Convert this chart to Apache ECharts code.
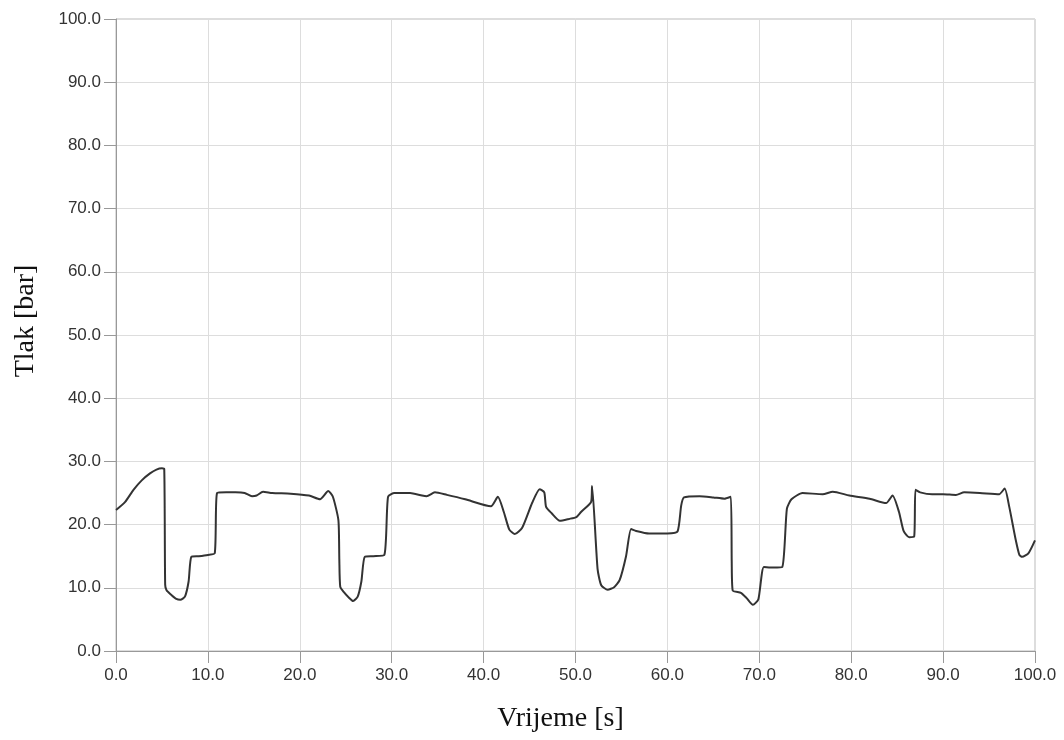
<!DOCTYPE html>
<html>
<head>
<meta charset="utf-8">
<script src="https://cdn.jsdelivr.net/npm/echarts@6/dist/echarts.min.js"></script>
<style>
  html, body { margin: 0; padding: 0; background: #fff; }
  #chart { width: 1064px; height: 740px; }
</style>
</head>
<body>
<div id="chart"></div>
<script>
// vrijeme [s]
var vrijeme = [0, 1, 1.9, 2.8, 3.7, 4.4, 5.0, 5.25, 5.35, 5.5, 6.0, 6.5, 7.0, 7.5, 7.9, 8.2, 9.0, 10.0, 10.75,
  11.0, 12, 13, 14, 14.8, 15.3, 16.0, 17, 19, 21, 22.2, 23.1, 23.6, 24.2, 24.3, 24.4, 24.8, 25.3, 25.8, 26.3,
  26.7, 27.07, 28, 29.2, 29.6, 30.3, 32, 33.3, 33.8, 34.7, 36, 38, 40.8, 41.55, 42.2, 42.8, 43.4, 44.2, 45.3,
  46.1, 46.6, 46.8, 47.4, 48.3, 49.3, 50.1, 50.6, 51.7, 51.8, 52.4, 52.8, 53.5, 54.2, 54.8, 55.5, 56.05, 56.6,
  58, 60, 61.1, 61.5, 61.8, 63.5, 65, 66.2, 66.9, 67.0, 67.1, 68.0, 68.6, 69.3, 69.9, 70.5, 71.5, 72.5, 73.0,
  73.5, 74.7, 76.9, 78.0, 79.8, 82, 83.8, 84.5, 85.2, 85.7, 86.3, 86.85, 87.0, 87.5, 88.8, 90, 91.4, 92.3, 94,
  96.1, 96.7, 97.2, 97.9, 98.3, 98.6, 99.3, 100];
// tlak [bar]
var tlak = [22.3, 23.6, 25.5, 27.0, 28.1, 28.7, 28.9, 28.8, 10.5, 9.6, 8.9, 8.3, 8.1, 8.6, 11, 14.9, 15.0, 15.2, 15.5,
  25.0, 25.1, 25.1, 25.0, 24.5, 24.6, 25.2, 25.0, 24.9, 24.6, 24.0, 25.3, 24.4, 20.7, 14.5, 10.2, 9.3, 8.5, 7.9, 8.6,
  11, 14.9, 15.0, 15.2, 24.4, 25.0, 25.0, 24.6, 24.5, 25.1, 24.7, 24.0, 22.9, 24.4, 22, 19.2, 18.5, 19.5, 23.5,
  25.6, 25.1, 22.8, 21.8, 20.6, 20.9, 21.2, 22.0, 23.6, 26.1, 13, 10.4, 9.7, 10.1, 11.2, 15, 19.3, 19.0,
  18.6, 18.6, 18.9, 23, 24.3, 24.5, 24.3, 24.1, 24.4, 14.1, 9.6, 9.2, 8.4, 7.3, 8.2, 13.3, 13.2, 13.3, 22.5,
  24.0, 25.0, 24.8, 25.2, 24.6, 24.1, 23.4, 24.6, 22, 19, 18.0, 18.1, 25.5, 25.1, 24.8, 24.8, 24.7, 25.1, 25.0,
  24.8, 25.7, 22.8, 17.6, 15.2, 14.9, 15.5, 17.5];

var podaci = vrijeme.map(function (t, i) { return [t, tlak[i]]; });

var myChart = echarts.init(document.getElementById("chart"));
var option = {
    animation: false,
    grid: {
        left: 116,
        right: 29,
        top: 19,
        bottom: 89,
        show: true,
        borderColor: '#bbb',
        borderWidth: 1
    },
    xAxis: {
        type: 'value',
        min: 0,
        max: 100,
        interval: 10,
        name: 'Vrijeme [s]',
        nameLocation: 'middle',
        nameGap: 54,
        nameTextStyle: { fontFamily: 'Liberation Serif', fontSize: 28, color: '#111', padding: [0, 30, 0, 0] },
        axisLine: { lineStyle: { color: '#999' } },
        axisTick: { show: true, length: 12, lineStyle: { color: '#999' } },
        axisLabel: {
            margin: 16,
            fontFamily: 'Liberation Sans',
            fontSize: 17,
            color: '#333',
            formatter: function (v) { return v.toFixed(1); }
        },
        splitLine: { lineStyle: { color: '#ddd' } }
    },
    yAxis: {
        type: 'value',
        min: 0,
        max: 100,
        interval: 10,
        name: 'Tlak [bar]',
        nameLocation: 'middle',
        nameGap: 76,
        nameTextStyle: { fontFamily: 'Liberation Serif', fontSize: 28, color: '#111', padding: [0, 0, 0, 28] },
        axisLine: { show: true, lineStyle: { color: '#999' } },
        axisTick: { show: true, length: 12, lineStyle: { color: '#999' } },
        axisLabel: {
            margin: 15,
            fontFamily: 'Liberation Sans',
            fontSize: 17,
            color: '#333',
            formatter: function (v) { return v.toFixed(1); }
        },
        splitLine: { lineStyle: { color: '#ddd' } }
    },
    series: [
        {
            type: 'line',
            data: podaci,
            showSymbol: false,
            smooth: 0.2,
            lineStyle: { color: '#333', width: 2 }
        }
    ]
};
myChart.setOption(option);
</script>
</body>
</html>
